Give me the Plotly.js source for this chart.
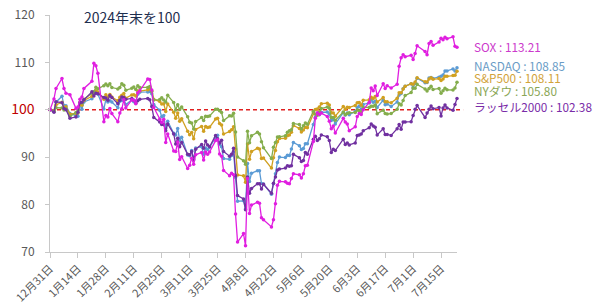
<!DOCTYPE html>
<html>
<head>
<meta charset="utf-8">
<script src="https://cdn.plot.ly/plotly-3.0.1.min.js"></script>
<style>html,body{margin:0;padding:0;background:#fff;}#chart{width:600px;height:305px;}</style>
</head>
<body>
<div id="chart"></div>
<script>
// Trading days (2024-12-31 = 100)
const dates = [
"2024-12-31",
"2025-01-02","2025-01-03","2025-01-06","2025-01-07","2025-01-08","2025-01-10","2025-01-13","2025-01-14","2025-01-15","2025-01-16","2025-01-17","2025-01-21","2025-01-22","2025-01-23","2025-01-24","2025-01-27","2025-01-28","2025-01-29","2025-01-30","2025-01-31",
"2025-02-03","2025-02-04","2025-02-05","2025-02-06","2025-02-07","2025-02-10","2025-02-11","2025-02-12","2025-02-13","2025-02-14","2025-02-18","2025-02-19","2025-02-20","2025-02-21","2025-02-24","2025-02-25","2025-02-26","2025-02-27","2025-02-28",
"2025-03-03","2025-03-04","2025-03-05","2025-03-06","2025-03-07","2025-03-10","2025-03-11","2025-03-12","2025-03-13","2025-03-14","2025-03-17","2025-03-18","2025-03-19","2025-03-20","2025-03-21","2025-03-24","2025-03-25","2025-03-26","2025-03-27","2025-03-28","2025-03-31",
"2025-04-01","2025-04-02","2025-04-03","2025-04-04","2025-04-07","2025-04-08","2025-04-09","2025-04-10","2025-04-11","2025-04-14","2025-04-15","2025-04-16","2025-04-17","2025-04-21","2025-04-22","2025-04-23","2025-04-24","2025-04-25","2025-04-28","2025-04-29","2025-04-30",
"2025-05-01","2025-05-02","2025-05-05","2025-05-06","2025-05-07","2025-05-08","2025-05-09","2025-05-12","2025-05-13","2025-05-14","2025-05-15","2025-05-16","2025-05-19","2025-05-20","2025-05-21","2025-05-22","2025-05-23","2025-05-27","2025-05-28","2025-05-29","2025-05-30",
"2025-06-02","2025-06-03","2025-06-04","2025-06-05","2025-06-06","2025-06-09","2025-06-10","2025-06-11","2025-06-12","2025-06-13","2025-06-16","2025-06-17","2025-06-18","2025-06-20","2025-06-23","2025-06-24","2025-06-25","2025-06-26","2025-06-27","2025-06-30",
"2025-07-01","2025-07-02","2025-07-03","2025-07-07","2025-07-08","2025-07-09","2025-07-10","2025-07-11","2025-07-14","2025-07-15","2025-07-16","2025-07-17","2025-07-18","2025-07-21","2025-07-22","2025-07-23"
];

const sox = [100,
102.3,104.5,106.6,104.5,103.5,103.2,100.3,100.6,102.2,102.7,104.5,106.0,109.8,109.3,107.7,97.5,98.8,98.5,100.3,99.2,
97.5,99.3,100.2,102.1,100.4,102.1,102.0,101.3,103.6,104.0,106.5,106.4,104.2,100.5,98.0,97.3,98.0,93.1,94.9,
91.3,91.2,93.2,89.5,90.1,87.6,88.3,89.8,88.5,90.5,91.0,89.4,91.1,90.6,91.1,93.5,93.7,90.7,90.2,87.2,86.1,
86.6,86.3,78.0,72.1,73.9,71.3,85.5,78.1,79.9,80.5,80.3,77.2,76.8,75.3,76.8,80.2,84.1,84.9,84.8,84.5,84.4,
85.5,86.5,86.3,85.6,86.5,88.2,88.3,93.3,98.2,99.4,99.0,99.3,98.6,97.6,96.0,96.6,95.1,98.2,97.4,97.0,95.6,
96.4,98.6,99.2,99.0,100.0,101.6,104.6,104.0,105.0,103.0,105.5,104.5,105.1,104.6,105.4,109.2,111.0,111.6,111.2,111.5,
110.6,111.9,113.5,112.3,111.6,114.0,114.4,113.6,114.3,115.1,114.8,115.3,115.0,115.4,113.4,113.21];

const nasdaq = [100,
99.84,101.61,102.87,100.93,100.87,99.23,98.85,98.62,101.04,100.14,101.65,102.31,103.62,103.85,103.33,100.16,102.19,101.67,101.92,101.64,
100.42,101.78,101.98,102.49,101.10,102.09,101.72,101.76,103.29,103.71,103.78,103.86,103.37,101.10,99.88,98.53,98.78,96.03,97.60,
95.03,94.69,96.07,93.57,94.23,90.46,90.29,91.39,89.60,91.94,92.22,90.64,91.92,91.62,92.09,94.19,94.62,92.69,92.20,89.71,89.58,
90.36,91.15,85.71,80.72,80.80,79.06,88.68,84.86,86.61,87.16,87.12,84.45,84.34,82.19,84.41,86.52,88.89,90.02,89.93,90.42,90.35,
91.71,93.10,92.41,91.61,91.86,92.84,92.84,96.88,98.44,99.15,98.97,99.48,99.51,99.13,97.73,98.01,97.03,99.42,98.91,99.30,98.98,
99.65,100.46,100.78,99.94,101.13,101.45,102.09,101.58,101.82,100.50,102.02,101.09,101.22,100.71,101.66,103.12,103.43,104.44,104.99,105.48,
104.62,105.60,106.68,105.71,105.74,106.73,106.83,106.60,106.88,107.08,107.35,108.16,108.21,108.61,108.19,108.85];

const sp500 = [100,
99.78,101.03,101.59,100.47,100.62,99.07,99.23,99.34,101.16,100.95,101.96,102.85,103.48,104.03,103.73,102.22,103.16,102.68,103.22,102.70,
101.92,102.66,103.06,103.43,102.45,103.14,103.18,102.90,103.97,103.96,104.22,104.46,104.01,102.24,101.73,101.25,101.27,99.66,101.24,
99.46,98.24,99.34,97.57,98.11,95.46,94.74,95.20,93.88,95.87,96.49,95.46,96.49,96.28,96.36,98.06,98.22,97.12,96.80,94.89,95.41,
95.77,96.42,91.75,86.27,86.07,84.72,92.78,89.57,91.19,91.91,91.75,89.70,89.82,87.70,89.90,91.40,93.25,93.94,94.00,94.55,94.69,
95.28,96.69,96.07,95.33,95.74,96.30,96.23,99.36,100.08,100.19,100.60,101.30,101.39,101.00,99.37,99.33,98.66,100.68,100.12,100.52,100.51,
100.92,101.51,101.52,100.98,102.02,102.11,102.67,102.39,102.78,101.62,102.58,101.72,101.69,101.47,102.44,103.58,103.58,104.41,104.96,105.50,
105.38,105.88,106.76,105.92,105.85,106.49,106.78,106.43,106.58,106.16,106.50,107.07,107.06,107.21,107.28,108.11];

const dow = [100,
99.64,100.44,100.38,99.96,100.21,98.58,99.42,99.94,101.59,101.43,102.22,103.48,103.79,104.75,104.42,105.10,105.42,105.10,105.50,104.70,
104.41,104.73,105.47,105.18,104.13,104.53,104.82,104.29,105.09,104.71,104.73,104.90,103.84,102.08,102.16,102.53,102.09,101.63,103.05,
101.52,99.95,101.09,100.08,100.61,98.51,97.39,97.20,95.93,97.52,98.35,97.74,98.64,98.61,98.69,100.09,100.10,99.79,99.43,97.74,98.72,
98.70,99.25,95.30,90.06,89.24,88.49,95.45,93.06,94.52,95.25,94.89,93.24,92.00,89.72,92.11,93.10,94.24,94.29,94.55,95.26,95.59,
95.79,97.12,96.88,95.97,96.64,97.24,96.96,99.68,99.05,98.84,99.48,100.26,100.58,100.31,98.39,98.39,97.79,99.53,98.95,99.23,99.36,
99.44,99.94,99.73,99.47,100.51,100.51,100.76,100.76,101.00,99.19,99.93,99.23,99.12,99.21,100.09,101.28,101.03,101.98,103.00,103.64,
104.59,104.56,105.37,104.38,103.99,104.50,104.95,104.30,104.50,103.48,104.02,104.56,104.23,104.18,104.60,105.80];

const russell = [100,
99.5,101.7,101.5,100.3,100.0,98.2,98.5,99.5,101.5,101.6,102.1,103.8,102.9,103.5,103.4,102.6,102.5,102.0,103.0,102.6,
101.3,102.0,102.7,102.6,102.2,102.4,102.0,101.4,101.9,102.2,102.4,102.1,100.7,98.4,97.4,96.9,96.9,95.6,97.0,
94.9,92.8,94.0,92.2,93.1,90.6,90.5,91.2,89.4,91.7,92.7,91.9,93.4,92.6,92.2,94.6,93.9,93.0,93.6,91.2,90.2,
90.6,91.9,86.1,81.9,81.2,78.9,85.8,82.4,83.4,84.4,84.4,83.3,84.3,82.4,84.5,85.8,87.3,87.5,87.7,88.2,88.1,
88.2,90.6,89.9,89.1,89.3,91.0,90.6,93.8,94.4,93.5,93.9,94.7,94.3,93.5,91.0,91.7,91.4,93.8,92.7,93.0,92.6,
93.0,94.6,94.7,94.9,95.6,96.2,97.0,96.6,96.3,94.7,96.0,94.8,94.8,94.6,96.0,96.9,95.9,97.4,97.4,97.5,
98.8,100.1,100.9,98.4,99.3,100.1,100.8,100.2,100.5,98.7,100.4,101.0,100.4,99.9,101.1,102.38];

const seriesNames = ["NASDAQ", "S&P500", "NYダウ", "ラッセル2000", "SOX"];
const tickDates = ["2024-12-31","2025-01-14","2025-01-28","2025-02-11","2025-02-25","2025-03-11","2025-03-25","2025-04-08","2025-04-22","2025-05-06","2025-05-20","2025-06-03","2025-06-17","2025-07-01","2025-07-15"];
const tickLabels = ["12月31日","1月14日","1月28日","2月11日","2月25日","3月11日","3月25日","4月8日","4月22日","5月6日","5月20日","6月3日","6月17日","7月1日","7月15日"];
const yTicks = [70, 80, 90, 100, 110, 120];
const baseLevel = 100;
const titleText = "2024年末を100";

// styles
const seriesData = [nasdaq, sp500, dow, russell, sox];
const lineColors = ["#5b9bd5", "#d0a020", "#84ad4c", "#7030a0", "#e01ee0"];
const labelColors = ["#6a9cc6", "#d2a33a", "#8aa655", "#7a2ca8", "#cc3acc"];
const labelY = [109.45, 106.75, 104.05, 100.75, 113.4];
const FONT = "'Noto Sans CJK JP', 'Noto Sans', sans-serif";

const traces = seriesData.map((vals, i) => ({
  type: "scatter",
  mode: "lines+markers",
  x: dates,
  y: vals,
  name: seriesNames[i],
  line: { color: lineColors[i], width: 1.3 },
  marker: { color: lineColors[i], size: 3.5 },
  cliponaxis: false,
  hoverinfo: "skip"
}));

const annotations = [{
  xref: "paper", yref: "paper", x: 0.078, y: 0.99,
  xanchor: "left", yanchor: "middle", showarrow: false,
  text: titleText, font: { family: FONT, size: 14, color: "#1f2f4f" }
}];
seriesData.forEach((vals, i) => {
  annotations.push({
    xref: "paper", yref: "y", x: 1.039, y: labelY[i],
    xanchor: "left", yanchor: "middle", showarrow: false,
    borderpad: 0,
    text: seriesNames[i] + " : " + vals[vals.length - 1].toFixed(2),
    font: { family: FONT, size: 11.8, color: labelColors[i] }
  });
});

const yText = yTicks.map(v => v === baseLevel
  ? '<span style="color:#c00000;font-size:14px">' + v + '</span>'
  : String(v));

const layout = {
  width: 600, height: 305,
  margin: { l: 50, r: 143, t: 15, b: 53 },
  paper_bgcolor: "#ffffff", plot_bgcolor: "#ffffff",
  showlegend: false,
  font: { family: FONT, color: "#595959", size: 12 },
  xaxis: {
    type: "date",
    range: [dates[0], dates[dates.length - 1]],
    tickmode: "array", tickvals: tickDates, ticktext: tickLabels,
    tickangle: -45,
    tickfont: { family: FONT, size: 11, color: "#595959" },
    showgrid: false, zeroline: false,
    showline: true, linecolor: "#c8c8c8", linewidth: 1,
    ticks: "outside", ticklen: 5, tickcolor: "#c8c8c8"
  },
  yaxis: {
    range: [70, 120],
    tickmode: "array", tickvals: yTicks, ticktext: yText,
    tickfont: { family: FONT, size: 12, color: "#595959" },
    showgrid: false, zeroline: false,
    showline: true, linecolor: "#c8c8c8", linewidth: 1,
    ticks: "outside", ticklen: 4, tickcolor: "#c8c8c8",
    ticklabelstandoff: 8
  },
  shapes: [{
    type: "line", xref: "paper", yref: "y",
    x0: 0, x1: 1.015, y0: baseLevel, y1: baseLevel,
    line: { color: "#e02020", width: 1.5, dash: "4px,3px" },
    layer: "below"
  }],
  annotations: annotations
};

Plotly.newPlot("chart", traces, layout, { staticPlot: true, displayModeBar: false });
</script>
</body>
</html>
